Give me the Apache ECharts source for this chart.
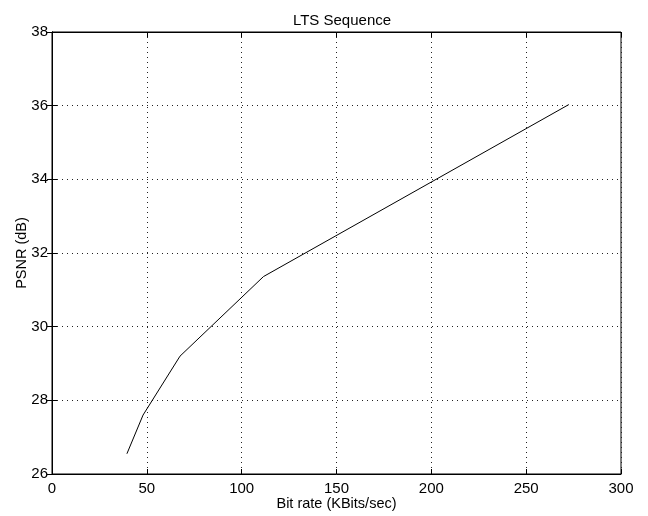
<!DOCTYPE html>
<html>
<head>
<meta charset="utf-8">
<script src="https://cdn.jsdelivr.net/npm/echarts@6.0.0/dist/echarts.min.js"></script>
<style>
  body { margin: 0; background: #fff; }
  #chart { width: 648px; height: 516px; }
</style>
</head>
<body>
<div id="chart"></div>
<script>
const bitRate = [39.5, 48, 67.5, 111.5, 272.5]
const psnr = [26.55, 27.6, 29.2, 31.36, 36.03]

const xTicks = { min: 0, max: 300, interval: 50 }
const yTicks = { min: 26, max: 38, interval: 2 }

const chart = echarts.init(document.getElementById('chart'))

const font = 'Liberation Sans, Arial, sans-serif'

const gridLines = {
  show: true,
  lineStyle: { color: '#222', width: 1, type: [1, 4] },
}

// box axes on top / right only carry inward ticks
const boxAxis = {
  type: 'value',
  axisLine: { show: true, lineStyle: { color: '#000', width: 1 } },
  axisTick: { show: true, inside: true, length: 5, lineStyle: { color: '#000' } },
  axisLabel: { show: false },
  splitLine: { show: false },
}

const option = {
  backgroundColor: '#fff',
  animation: false,
  title: {
    text: 'LTS Sequence',
    left: 337,
    textAlign: 'center',
    top: 8,
    textStyle: { fontSize: 15, fontWeight: 'normal', color: '#000', fontFamily: font },
  },
  grid: {
    left: 52,
    right: 27,
    top: 32,
    bottom: 39,
    show: true,
    borderColor: '#000',
    borderWidth: 1,
  },
  xAxis: [
    {
      type: 'value',
      min: xTicks.min,
      max: xTicks.max,
      interval: xTicks.interval,
      name: 'Bit rate (KBits/sec)',
      nameLocation: 'middle',
      nameGap: 22,
      nameMoveOverlap: false,
      nameTextStyle: { fontSize: 14.5, color: '#000', fontFamily: font, verticalAlign: 'top' },
      axisLine: { show: true, lineStyle: { color: '#000', width: 1 } },
      axisTick: { show: true, inside: true, length: 5, lineStyle: { color: '#000' } },
      axisLabel: { color: '#000', fontSize: 15, fontFamily: font, margin: 7 },
      splitLine: gridLines,
    },
    Object.assign({}, boxAxis, {
      position: 'top',
      min: xTicks.min,
      max: xTicks.max,
      interval: xTicks.interval,
    }),
  ],
  yAxis: [
    {
      type: 'value',
      min: yTicks.min,
      max: yTicks.max,
      interval: yTicks.interval,
      name: 'PSNR (dB)',
      nameLocation: 'middle',
      nameGap: 23,
      nameMoveOverlap: false,
      nameRotate: 90,
      nameTextStyle: { fontSize: 14.5, color: '#000', fontFamily: font },
      axisLine: { show: true, lineStyle: { color: '#000', width: 1 } },
      axisTick: { show: true, inside: true, length: 5, lineStyle: { color: '#000' } },
      axisLabel: { color: '#000', fontSize: 15, fontFamily: font, margin: 4 },
      splitLine: gridLines,
    },
    Object.assign({}, boxAxis, {
      position: 'right',
      min: yTicks.min,
      max: yTicks.max,
      interval: yTicks.interval,
    }),
  ],
  series: [
    {
      type: 'line',
      data: bitRate.map((x, i) => [x, psnr[i]]),
      showSymbol: false,
      lineStyle: { color: '#000', width: 1 },
    },
  ],
}

chart.setOption(option)
</script>
</body>
</html>
